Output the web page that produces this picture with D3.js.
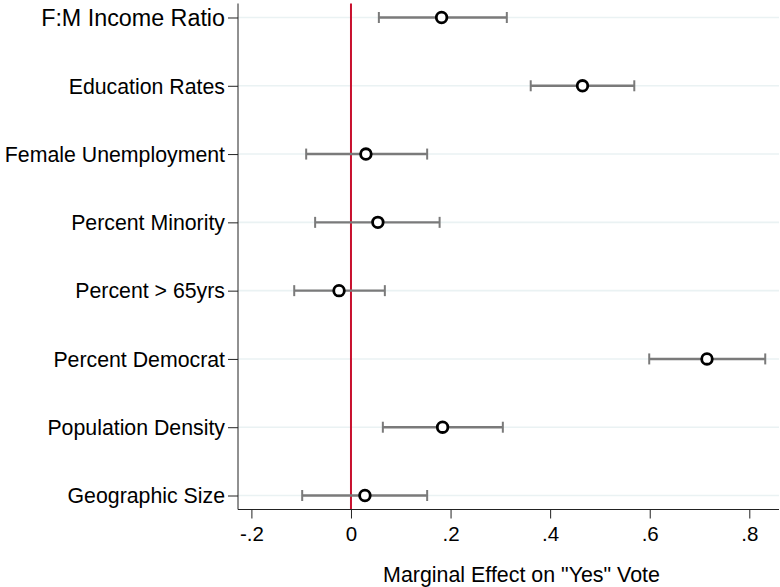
<!DOCTYPE html>
<html>
<head>
<meta charset="utf-8">
<script src="https://cdn.jsdelivr.net/npm/d3@7"></script>
<style>
  html, body { margin: 0; padding: 0; background: #fff; }
  svg { display: block; font-family: "Liberation Sans", Arial, sans-serif; }
</style>
</head>
<body>
<svg id="chart" width="780" height="587"></svg>
<script>
// Covariates, top to bottom
const variables = [
  "F:M Income Ratio",
  "Education Rates",
  "Female Unemployment",
  "Percent Minority",
  "Percent > 65yrs",
  "Percent Democrat",
  "Population Density",
  "Geographic Size"
];
// Point estimates of the marginal effect
const estimates = [0.182, 0.465, 0.030, 0.054, -0.024, 0.715, 0.184, 0.028];
// Confidence interval bounds
const lowerCI = [0.056, 0.361, -0.090, -0.072, -0.114, 0.599, 0.064, -0.098];
const upperCI = [0.313, 0.569, 0.153, 0.178, 0.068, 0.832, 0.305, 0.153];
// x-axis ticks
const xTicks = [-0.2, 0, 0.2, 0.4, 0.6, 0.8];
const xTickLabels = ["-.2", "0", ".2", ".4", ".6", ".8"];

const rows = variables.map((v, i) => ({
  name: v, est: estimates[i], lo: lowerCI[i], hi: upperCI[i]
}));

const svg = d3.select("#chart");
const plot = { left: 238, right: 779, top: 3.5, bottom: 509.5 };

const x = d3.scaleLinear()
  .domain([-0.2, 0.8])
  .range([251.4, 749.3]);

const y = d3.scalePoint()
  .domain(variables)
  .range([plot.top, plot.bottom])
  .padding(0.205);

// Horizontal gridlines at each covariate
svg.append("g")
  .selectAll("line")
  .data(variables)
  .join("line")
  .attr("x1", plot.left)
  .attr("x2", plot.right)
  .attr("y1", d => y(d))
  .attr("y2", d => y(d))
  .attr("stroke", "#eaf2f3")
  .attr("stroke-width", 1.6);

// Reference line at zero
svg.append("line")
  .attr("x1", x(0)).attr("x2", x(0))
  .attr("y1", plot.top).attr("y2", plot.bottom)
  .attr("stroke", "#c8102e")
  .attr("stroke-width", 2);

// Y axis
const yAxis = svg.append("g")
  .attr("transform", `translate(${plot.left},0)`)
  .call(d3.axisLeft(y).tickSize(10).tickPadding(3));
yAxis.select(".domain")
  .attr("d", `M0,${plot.top}V${plot.bottom}`)
  .attr("stroke", "#222");
yAxis.selectAll(".tick line").attr("stroke", "#222");
yAxis.selectAll(".tick text")
  .attr("font-size", d => d === "F:M Income Ratio" ? 23.3 : 21.3)
  .attr("font-family", "Liberation Sans, Arial, sans-serif")
  .attr("fill", "#000")
  .attr("dy", "0.34em");

// X axis
const xAxis = svg.append("g")
  .attr("transform", `translate(0,${plot.bottom})`)
  .call(d3.axisBottom(x)
    .tickValues(xTicks)
    .tickFormat((d, i) => xTickLabels[i])
    .tickSize(9)
    .tickPadding(8));
xAxis.select(".domain")
  .attr("d", `M${plot.left},0H${plot.right}`)
  .attr("stroke", "#222");
xAxis.selectAll(".tick line").attr("stroke", "#222");
xAxis.selectAll(".tick text")
  .attr("font-size", 20.5)
  .attr("font-family", "Liberation Sans, Arial, sans-serif")
  .attr("fill", "#000");

// Axis title
svg.append("text")
  .attr("x", 521.5)
  .attr("y", 582)
  .attr("text-anchor", "middle")
  .attr("font-size", 21.4)
  .attr("fill", "#000")
  .text('Marginal Effect on "Yes" Vote');

// Confidence intervals
const ci = svg.append("g").selectAll("g")
  .data(rows)
  .join("g")
  .attr("stroke", "#7a7a7a")
  .attr("stroke-width", 2.4);

ci.append("line")
  .attr("x1", d => x(d.lo)).attr("x2", d => x(d.hi))
  .attr("y1", d => y(d.name)).attr("y2", d => y(d.name));
ci.append("line")
  .attr("x1", d => x(d.lo)).attr("x2", d => x(d.lo))
  .attr("y1", d => y(d.name) - 5.5).attr("y2", d => y(d.name) + 5.5)
  .attr("stroke-width", 2);
ci.append("line")
  .attr("x1", d => x(d.hi)).attr("x2", d => x(d.hi))
  .attr("y1", d => y(d.name) - 5.5).attr("y2", d => y(d.name) + 5.5)
  .attr("stroke-width", 2);

// Point estimates
svg.append("g").selectAll("circle")
  .data(rows)
  .join("circle")
  .attr("cx", d => x(d.est))
  .attr("cy", d => y(d.name))
  .attr("r", 5.3)
  .attr("fill", "#fff")
  .attr("stroke", "#000")
  .attr("stroke-width", 2.8);
</script>
</body>
</html>
